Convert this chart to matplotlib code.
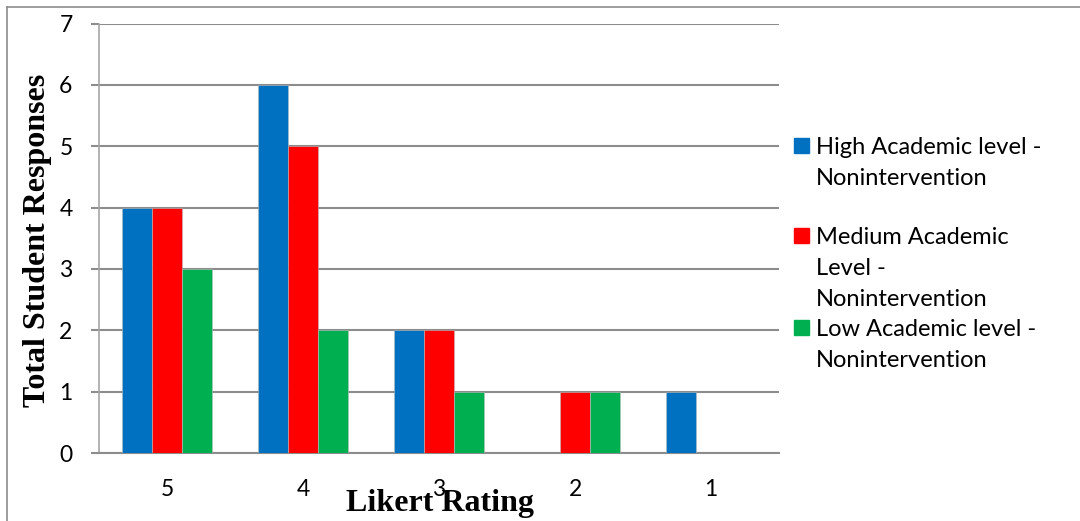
import numpy as np
import matplotlib.pyplot as plt
from matplotlib.lines import Line2D
from matplotlib.patches import Rectangle

ratings = ['5', '4', '3', '2', '1']
high = [4, 6, 2, 0, 1]
medium = [4, 5, 2, 1, 0]
low = [3, 2, 1, 1, 0]
series_names = ['High Academic level -\nNonintervention',
                'Medium Academic\nLevel -\nNonintervention',
                'Low Academic level -\nNonintervention']
colors = ['#0070C0', '#FF0000', '#00B050']

tick_font = 'Lato'
label_font = 'Liberation Serif'

fig = plt.figure(figsize=(10.8, 5.21), dpi=100)
ax = fig.add_axes([99 / 1080, 1 - 453 / 521, 680 / 1080, 429.5 / 521])

x = np.arange(len(ratings))
w = 0.22
for i, (vals, c) in enumerate(zip([high, medium, low], colors)):
    ax.bar(x + (i - 1) * w, vals, width=w, color=c, edgecolor='#bbbbbb', linewidth=0.4, zorder=3)

ax.set_xlim(-0.5, len(ratings) - 0.5)
ax.set_ylim(0, 7)
ax.set_yticks(range(0, 8))
ax.set_xticks(x)
ax.set_xticklabels(ratings)
ax.grid(axis='y', color='#8c8c8c', linewidth=1.5, zorder=0)
for s in ['top', 'right']:
    ax.spines[s].set_visible(False)
ax.spines['left'].set_color('#a6a6a6')
ax.spines['left'].set_linewidth(1.2)
ax.spines['bottom'].set_color('#8c8c8c')
ax.spines['bottom'].set_linewidth(1.5)
ax.tick_params(axis='y', length=6, width=1.5, color='#8c8c8c', pad=13)
ax.tick_params(axis='x', length=0, pad=19)
for lab in ax.get_xticklabels() + ax.get_yticklabels():
    lab.set_fontfamily(tick_font)
    lab.set_fontsize(16.5)

fig.text(38 / 1080, 1 - 240 / 521, 'Total Student Responses', rotation=90,
         ha='center', va='center', fontfamily=label_font, fontweight='bold', fontsize=23)
fig.text(440 / 1080, 1 - 504 / 521, 'Likert Rating', ha='center', va='center',
         fontfamily=label_font, fontweight='bold', fontsize=23)

# legend drawn by hand to mimic the uneven line spacing of the source
legend_y = [147, 237, 329]
for name, c, y0 in zip(series_names, colors, legend_y):
    fig.patches.append(Rectangle((794 / 1080, 1 - (y0 + 6) / 521), 15 / 1080, 15 / 521,
                                 transform=fig.transFigure, color=c))
    for k, line in enumerate(name.split('\n')):
        yy = y0 + k * 31.5
        fig.text(816 / 1080, 1 - yy / 521, line, ha='left', va='center',
                 fontfamily=tick_font, fontsize=17)

# outer frame (top and left edges)
fig.lines.append(Line2D([7 / 1080, 1], [1 - 7 / 521, 1 - 7 / 521], transform=fig.transFigure,
                        color='#8c8c8c', linewidth=1.2))
fig.lines.append(Line2D([7 / 1080, 7 / 1080], [0, 1 - 7 / 521], transform=fig.transFigure,
                        color='#8c8c8c', linewidth=1.2))

fig.savefig('out.png', dpi=100)
